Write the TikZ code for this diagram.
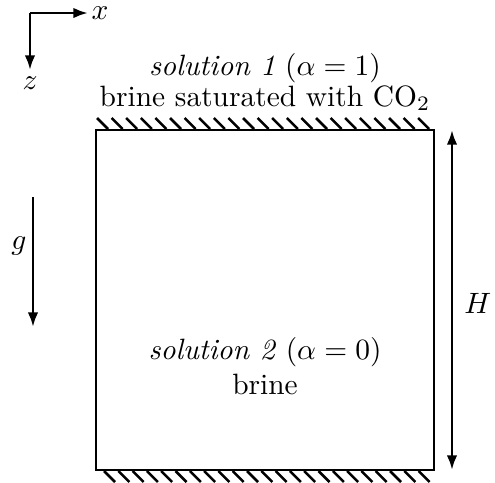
\documentclass[tikz,border=0pt]{standalone}
\usetikzlibrary{arrows.meta,positioning,calc}

\begin{document}
\begin{tikzpicture}[
  x=0.34pt, y=-0.34pt, >={Latex[length=5pt,width=3.6pt]},
  every node/.append style={text=black},
  wall/.style={line width=0.95pt},
  hatch/.style={line width=0.85pt},
  arr/.style={->, line width=0.9pt},
  lbl/.style={align=center, inner sep=1pt},
]
\useasboundingbox (0,0) rectangle (495,482);
% coordinate axes
\coordinate (orig) at (30,13);
\coordinate (xend) at (88,13);
\coordinate (zend) at (30,70);
\draw[arr] (orig) -- (xend);
\draw[arr] (orig) -- (zend);
\node[lbl, right=0pt of xend] (xlab) {$x$};
\node[lbl, below=1pt of zend] (zlab) {$z$};
% domain with walls
\coordinate (tl) at (96,130);
\coordinate (br) at (434,470);
\draw[wall] (tl) rectangle (br);
\foreach \i in {0,...,22} { \draw[hatch] (97+14.6*\i,118) -- ++(11,11); }
\foreach \i in {0,...,22} { \draw[hatch] (104+14.3*\i,471) -- ++(11,11); }
% solutions
\node[lbl] (sol1) at (265,68) {\textit{solution 1} ($\alpha=1$)};
\node[lbl, below=-1.5pt of sol1] (brsat) {brine saturated with CO$_2$};
\node[lbl] (sol2) at (265,352) {\textit{solution 2} ($\alpha=0$)};
\node[lbl, below=0pt of sol2] (brine) {brine};
% gravity
\coordinate (gtop) at (33,197);
\coordinate (gbot) at (33,327);
\draw[arr] (gtop) -- (gbot);
\node[lbl, left=1pt of $(gtop)!0.38!(gbot)$] (glab) {$g$};
% height
\coordinate (htop) at (452,130);
\coordinate (hbot) at (452,470);
\draw[arr, <->] (htop) -- (hbot);
\node[lbl, right=3pt of $(htop)!0.51!(hbot)$] (hlab) {$H$};
\end{tikzpicture}
\end{document}
